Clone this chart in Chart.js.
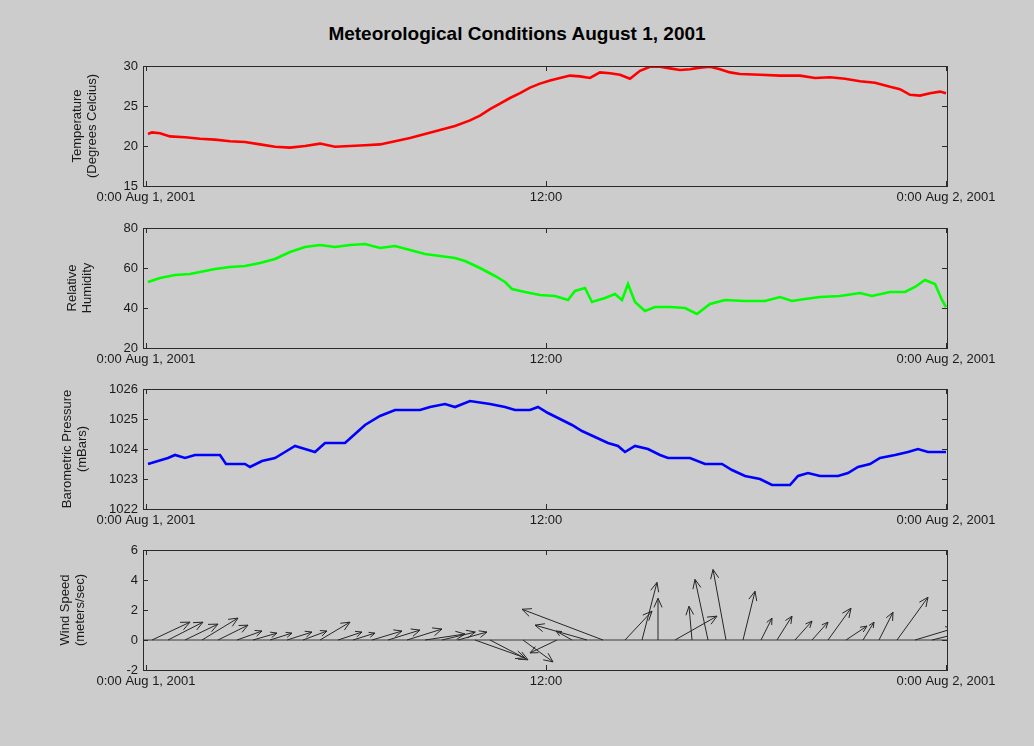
<!DOCTYPE html>
<html><head><meta charset="utf-8">
<script src="https://cdn.jsdelivr.net/npm/chart.js@4.4.1/dist/chart.umd.min.js"></script>
<style>
html,body{margin:0;padding:0;background:#cccccc;}
#wrap{position:relative;width:1034px;height:746px;overflow:hidden;background:#cccccc;}
#title{position:absolute;left:0;width:1034px;top:23px;line-height:22px;text-align:center;font:bold 19px "Liberation Sans",Arial,sans-serif;color:#000;}
canvas{position:absolute;left:0;}
</style></head><body>
<div id="wrap">
<div id="title">Meteorological Conditions August 1, 2001</div>
<canvas id="c1" width="1034" height="165" style="top:51px"></canvas>
<canvas id="c2" width="1034" height="165" style="top:213px"></canvas>
<canvas id="c3" width="1034" height="165" style="top:374px"></canvas>
<canvas id="c4" width="1034" height="165" style="top:535px"></canvas>
</div>
<script>
// ---------------- DATA ----------------
const xTickValues = [0, 12, 24];
const xTickLabels = ["0:00 Aug 1, 2001", "12:00", "0:00 Aug 2, 2001"];

const tempHours = [0.06,0.18,0.42,0.72,1.17,1.62,2.07,2.52,2.97,3.42,3.87,4.32,4.77,5.22,5.67,6.12,6.57,7.02,7.47,7.92,8.37,8.82,9.27,9.72,10.02,10.32,10.62,10.92,11.22,11.52,11.82,12.12,12.42,12.72,13.02,13.32,13.62,13.92,14.22,14.52,14.82,15.12,15.42,15.72,16.02,16.32,16.62,16.92,17.22,17.52,17.82,18.42,19.02,19.62,20.07,20.52,20.97,21.42,21.87,22.32,22.62,22.92,23.22,23.52,23.82,24.0];
const tempValues = [21.5,21.7,21.6,21.2,21.1,20.9,20.8,20.6,20.5,20.2,19.9,19.8,20.0,20.3,19.9,20.0,20.1,20.2,20.6,21.0,21.5,22.0,22.5,23.2,23.8,24.6,25.3,26.0,26.6,27.3,27.8,28.2,28.5,28.8,28.7,28.5,29.2,29.1,28.9,28.4,29.4,29.9,29.9,29.7,29.5,29.6,29.8,29.9,29.6,29.2,29.0,28.9,28.8,28.8,28.5,28.6,28.4,28.1,27.9,27.4,27.1,26.4,26.3,26.6,26.8,26.6];

const humHours = [0.06,0.42,0.87,1.32,1.62,2.07,2.52,2.97,3.42,3.87,4.32,4.77,5.22,5.67,6.12,6.57,7.02,7.47,7.92,8.37,8.82,9.27,9.57,10.02,10.47,10.77,10.98,11.37,11.82,12.27,12.66,12.87,13.17,13.38,13.77,14.07,14.28,14.46,14.67,14.97,15.27,15.72,16.17,16.53,16.92,17.37,17.97,18.57,19.02,19.38,19.77,20.22,20.82,21.42,21.78,22.32,22.77,23.07,23.37,23.67,23.88,24.0];
const humValues = [53,55,56.5,57,58,59.5,60.5,61,62.5,64.5,68,70.5,71.5,70.5,71.5,72,70,71,69,67,66,65,63.5,60,56,53,49.5,48,46.5,46,44,48.5,50,43,45,47,44,52,43,38.5,40.5,40.5,40,37,42,44,43.5,43.5,45.5,43.5,44.5,45.5,46,47.5,46,48,48,50.5,54,52,44,40.5];

const presHours = [0.06,0.36,0.66,0.87,1.17,1.47,1.92,2.22,2.40,2.97,3.12,3.48,3.87,4.17,4.47,4.77,5.07,5.37,5.97,6.27,6.57,7.02,7.47,8.22,8.52,8.97,9.27,9.72,10.32,10.77,11.07,11.52,11.76,12.06,12.42,12.78,13.08,13.47,13.86,14.16,14.37,14.67,15.06,15.42,15.66,16.32,16.77,17.28,17.58,17.97,18.42,18.78,19.32,19.56,19.86,20.22,20.76,21.06,21.36,21.72,22.02,22.47,22.86,23.16,23.46,24.0];
const presValues = [1023.5,1023.6,1023.7,1023.8,1023.7,1023.8,1023.8,1023.8,1023.5,1023.5,1023.4,1023.6,1023.7,1023.9,1024.1,1024.0,1023.9,1024.2,1024.2,1024.5,1024.8,1025.1,1025.3,1025.3,1025.4,1025.5,1025.4,1025.6,1025.5,1025.4,1025.3,1025.3,1025.4,1025.2,1025.0,1024.8,1024.6,1024.4,1024.2,1024.1,1023.9,1024.1,1024.0,1023.8,1023.7,1023.7,1023.5,1023.5,1023.3,1023.1,1023.0,1022.8,1022.8,1023.1,1023.2,1023.1,1023.1,1023.2,1023.4,1023.5,1023.7,1023.8,1023.9,1024.0,1023.9,1023.9];

// wind vectors: base time (h), east component u and north component v (m/s)
const windTime = [0.18,0.66,1.17,1.68,2.16,2.73,3.21,3.72,4.23,4.71,5.22,5.76,6.21,6.78,7.26,7.83,8.37,8.88,9.36,9.87,10.32,11.31,12.33,12.78,13.23,13.71,14.37,14.88,15.36,15.87,16.38,16.86,17.40,17.91,18.45,18.93,19.47,19.98,20.46,21.00,21.51,21.99,22.53,23.07,23.58];
const windU = [1.14,1.05,0.99,1.08,0.90,0.75,0.72,0.66,0.75,0.72,0.90,0.72,0.66,0.90,0.96,1.05,1.20,1.00,0.87,1.50,1.14,0.90,-0.81,-0.48,-1.56,-2.43,0.81,0.45,0.00,1.26,-0.09,-0.39,-0.39,0.36,0.33,0.45,0.51,0.48,0.69,0.63,0.33,0.42,0.93,1.20,0.84];
const windV = [1.19,1.19,1.06,1.46,0.99,0.60,0.46,0.46,0.53,0.60,1.19,0.53,0.46,0.60,0.66,0.73,0.40,0.53,0.53,-1.19,-1.32,-1.46,-0.86,0.60,0.99,2.05,1.92,3.84,2.78,1.59,2.25,4.04,4.70,3.25,1.46,1.59,1.26,1.19,2.12,0.93,1.19,1.85,2.85,0.80,0.46];

// ---------------- STYLE / HELPERS ----------------
const FONT = '"Liberation Sans", Arial, sans-serif';
const HOURS_PER_MS = 1;   // horizontal arrow scale
Chart.defaults.font.family = FONT;
Chart.defaults.color = '#1a1a1a';

const framePlugin = {
  id: 'frame',
  afterDraw(chart) {
    const {ctx, chartArea: a, scales: {x, y}} = chart;
    ctx.save();
    ctx.strokeStyle = '#2a2a2a';
    ctx.lineWidth = 1;
    ctx.strokeRect(Math.round(a.left) + 0.5, Math.round(a.top) + 0.5, Math.round(a.width), Math.round(a.height));
    const L = 5;
    ctx.beginPath();
    y.ticks.forEach(t => {
      const py = Math.round(y.getPixelForValue(t.value)) + 0.5;
      ctx.moveTo(a.left, py); ctx.lineTo(a.left + L, py);
      ctx.moveTo(a.right, py); ctx.lineTo(a.right - L, py);
    });
    x.ticks.forEach(t => {
      const px = Math.round(x.getPixelForValue(t.value)) + 0.5;
      ctx.moveTo(px, a.bottom); ctx.lineTo(px, a.bottom - L);
      ctx.moveTo(px, a.top); ctx.lineTo(px, a.top + L);
    });
    ctx.stroke();
    ctx.restore();
  }
};

const quiverPlugin = {
  id: 'quiver',
  afterDatasetsDraw(chart) {
    const {ctx, chartArea: a, scales: {x, y}} = chart;
    ctx.save();
    ctx.beginPath(); ctx.rect(a.left, a.top, a.width, a.height); ctx.clip();
    const y0 = y.getPixelForValue(0);
    ctx.strokeStyle = '#6a6a6a'; ctx.lineWidth = 1.6;
    ctx.beginPath(); ctx.moveTo(a.left, y0); ctx.lineTo(a.right, y0); ctx.stroke();
    ctx.strokeStyle = '#262626'; ctx.lineWidth = 1;
    for (let i = 0; i < windTime.length; i++) {
      const x0 = x.getPixelForValue(windTime[i]);
      const x1 = x.getPixelForValue(windTime[i] + windU[i] * HOURS_PER_MS);
      const y1 = y.getPixelForValue(windV[i]);
      const ang = Math.atan2(y1 - y0, x1 - x0);
      const len = Math.hypot(x1 - x0, y1 - y0);
      const h = Math.min(10, Math.max(6, len * 0.28));
      ctx.beginPath();
      ctx.moveTo(x0, y0); ctx.lineTo(x1, y1);
      ctx.moveTo(x1 - h * Math.cos(ang - 0.42), y1 - h * Math.sin(ang - 0.42));
      ctx.lineTo(x1, y1);
      ctx.lineTo(x1 - h * Math.cos(ang + 0.42), y1 - h * Math.sin(ang + 0.42));
      ctx.stroke();
    }
    ctx.restore();
  }
};

function xScale() {
  return {
    type: 'linear', min: -0.09, max: 24.03,
    afterBuildTicks: s => { s.ticks = xTickValues.map(v => ({value: v})); },
    ticks: {
      autoSkip: false, maxRotation: 0, padding: 4,
      font: {size: 13, family: FONT}, color: '#1a1a1a',
      callback: (v, i) => xTickLabels[i]
    },
    grid: {display: false, drawTicks: false},
    border: {display: false},
    afterFit: s => { s.height = 30; s.paddingLeft = 0; s.paddingRight = 0; }
  };
}
function yScale(min, max, step, title, padLeft) {
  return {
    type: 'linear', min: min, max: max,
    ticks: {stepSize: step, padding: 5, font: {size: 13, family: FONT}, color: '#1a1a1a',
            callback: v => String(v)},
    grid: {display: false, drawTicks: false},
    border: {display: false},
    title: {display: true, text: title, font: {size: 13, family: FONT, lineHeight: 1.15}, color: '#1a1a1a', padding: 0},
    afterFit: s => { s.width = 143 - padLeft; s.paddingTop = 0; s.paddingBottom = 0; }
  };
}
function makeChart(id, datasets, yMin, yMax, yStep, title, padLeft, extraPlugins) {
  return new Chart(document.getElementById(id), {
    type: 'line',
    data: {datasets: datasets},
    options: {
      responsive: false, animation: false, devicePixelRatio: 1,
      parsing: false, normalized: true,
      layout: {padding: {left: padLeft, right: 87, top: 15, bottom: 0}},
      plugins: {legend: {display: false}, tooltip: {enabled: false}, title: {display: false}},
      scales: {x: xScale(), y: yScale(yMin, yMax, yStep, title, padLeft)},
      elements: {point: {radius: 0}, line: {tension: 0}}
    },
    plugins: [framePlugin].concat(extraPlugins || [])
  });
}
function series(hours, vals, color) {
  return {data: hours.map((h, i) => ({x: h, y: vals[i]})), borderColor: color, borderWidth: 2.6, fill: false};
}

makeChart('c1', [series(tempHours, tempValues, '#ff0000')], 15, 30, 5, ['Temperature', '(Degrees Celcius)'], 70);
makeChart('c2', [series(humHours, humValues, '#00ff00')], 20, 80, 20, ['Relative', 'Humidity'], 65);
makeChart('c3', [series(presHours, presValues, '#0000ff')], 1022, 1026, 1, ['Barometric Pressure', '(mBars)'], 60);
makeChart('c4', [], -2, 6, 2, ['Wind Speed', '(meters/sec)'], 58, [quiverPlugin]);
</script>
</body></html>
